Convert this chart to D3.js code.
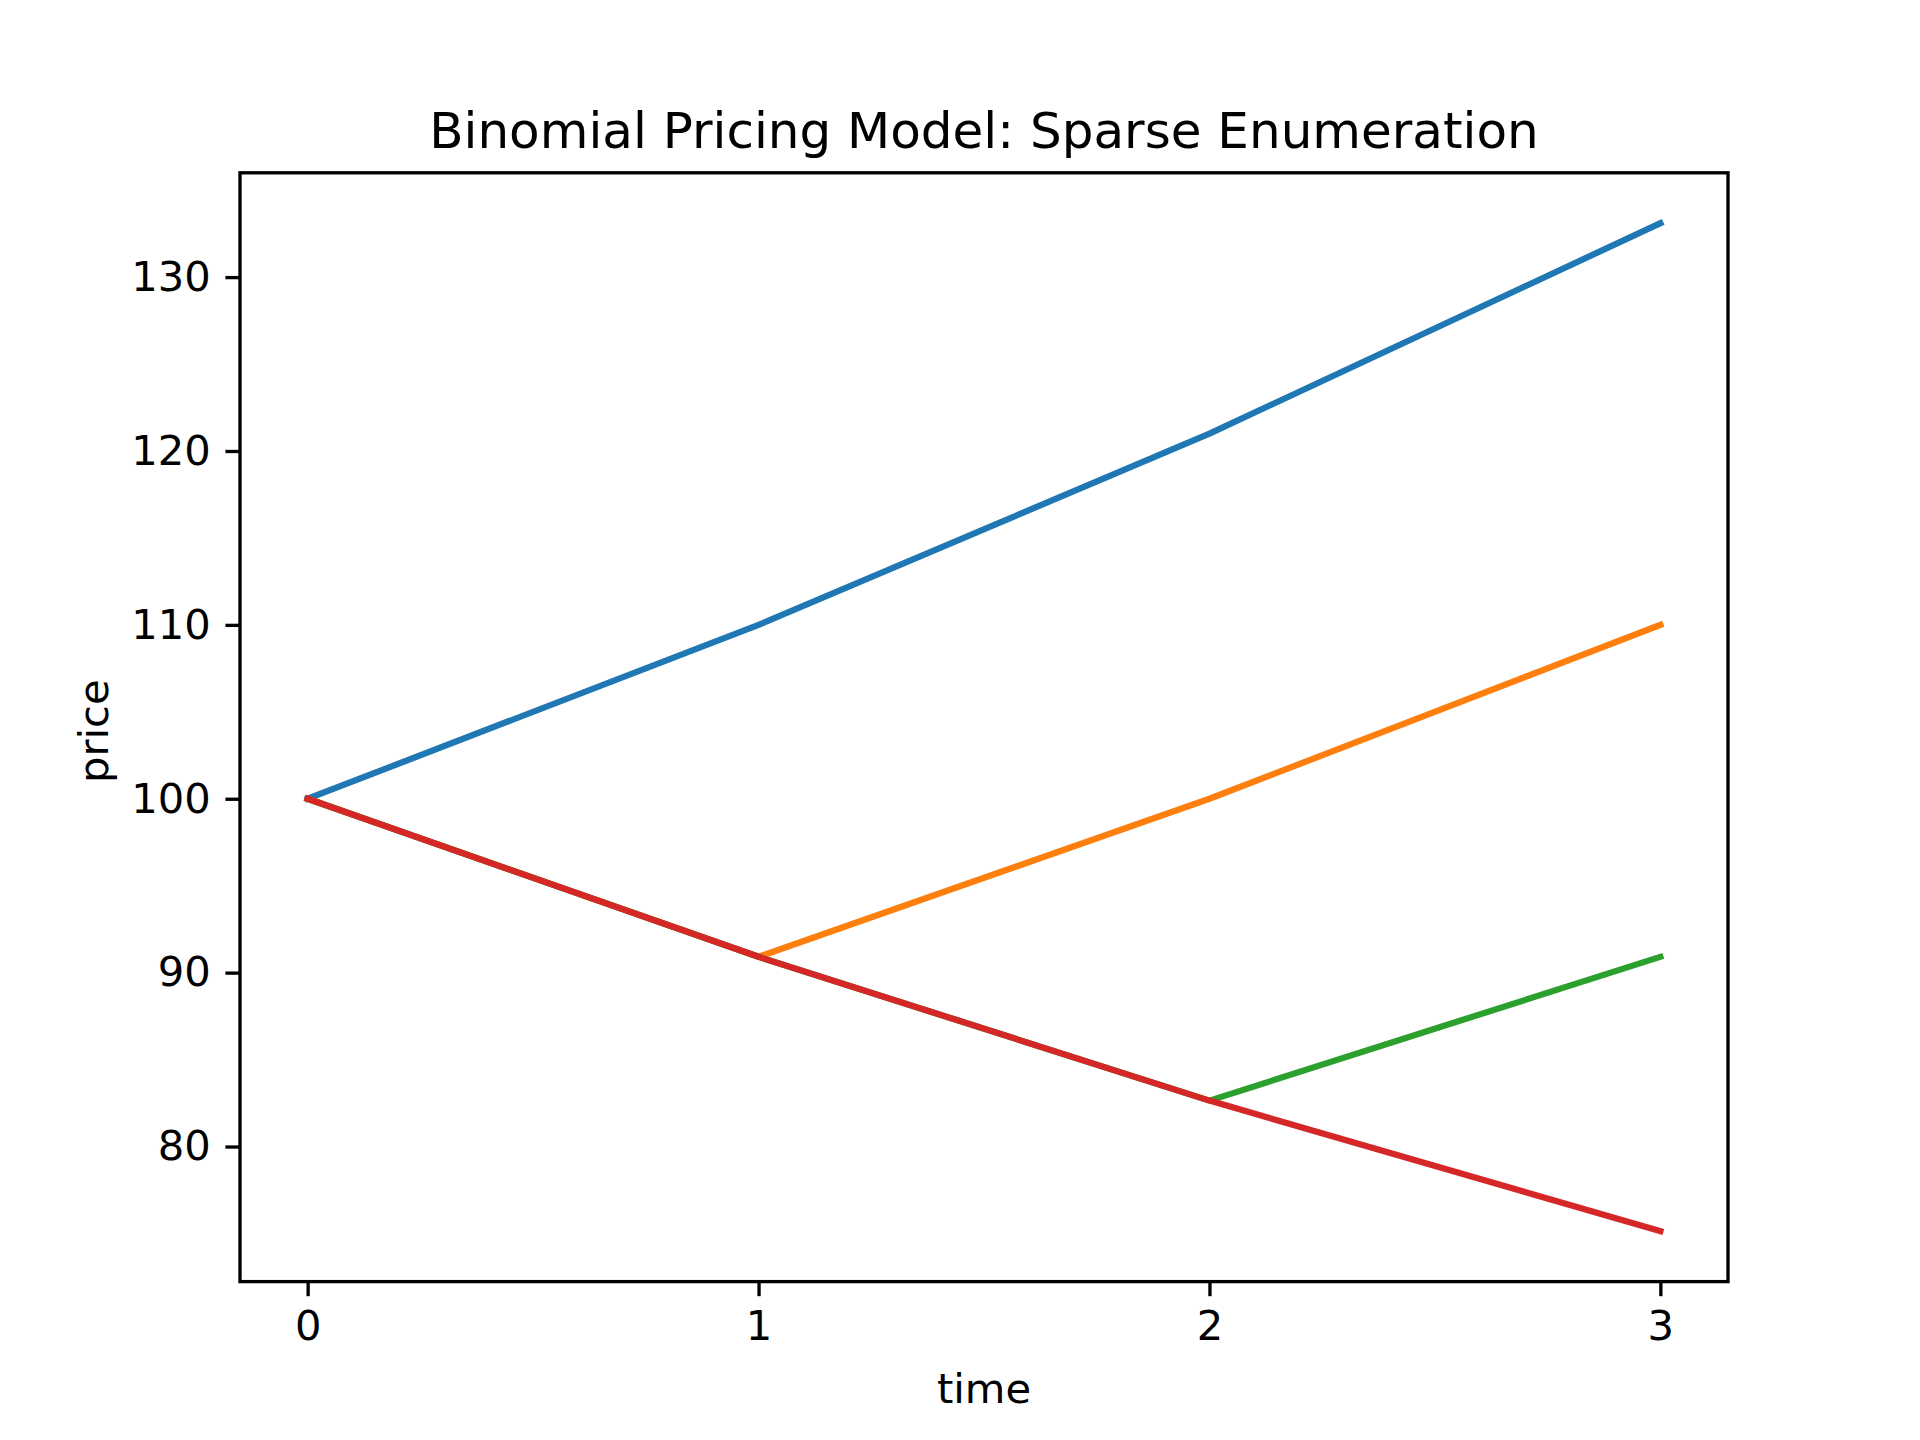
<!DOCTYPE html>
<html>
<head>
<meta charset="utf-8">
<script src="https://cdn.jsdelivr.net/npm/d3@7"></script>
<style>
  body { margin: 0; background: #fff; }
  text { font-family: "DejaVu Sans", sans-serif; fill: #000; }
</style>
</head>
<body>
<div id="chart"></div>
<script>
// data
var times = [0, 1, 2, 3];
var pathUUU = [100, 110, 121, 133.1];
var pathDUU = [100, 90.91, 100, 110];
var pathDDU = [100, 90.91, 82.64, 90.91];
var pathDDD = [100, 90.91, 82.64, 75.13];
var seriesColors = ["#1f77b4", "#ff7f0e", "#2ca02c", "#d62728"];
var xTicks = [0, 1, 2, 3];
var yTicks = [80, 90, 100, 110, 120, 130];

// chart area, matplotlib default layout
var svgWidth = 1920;
var svgHeight = 1440;
var margin = { top: 172.8, right: 192, bottom: 158.4, left: 240 };
var width = svgWidth - margin.left - margin.right;
var height = svgHeight - margin.top - margin.bottom;

var svg = d3.select("#chart")
  .append("svg")
  .attr("width", svgWidth)
  .attr("height", svgHeight);

var chartGroup = svg.append("g")
  .attr("transform", `translate(${margin.left}, ${margin.top})`);

var allPaths = [pathUUU, pathDUU, pathDDU, pathDDD];
var yMin = d3.min(allPaths, p => d3.min(p));
var yMax = d3.max(allPaths, p => d3.max(p));
var yPad = (yMax - yMin) * 0.05;
var xPad = (d3.max(times) - d3.min(times)) * 0.05;

var xLinearScale = d3.scaleLinear()
  .domain([d3.min(times) - xPad, d3.max(times) + xPad])
  .range([0, width]);

var yLinearScale = d3.scaleLinear()
  .domain([yMin - yPad, yMax + yPad])
  .range([height, 0]);

var fontSize = 41.67;
var tickLen = 14.58;

var bottomAxis = d3.axisBottom(xLinearScale)
  .tickValues(xTicks)
  .tickSize(tickLen)
  .tickPadding(14.58)
  .tickFormat(d3.format("d"));
var leftAxis = d3.axisLeft(yLinearScale)
  .tickValues(yTicks)
  .tickSize(tickLen)
  .tickPadding(14.58)
  .tickFormat(d3.format("d"));

// lines
var line = d3.line()
  .x((d, i) => xLinearScale(times[i]))
  .y(d => yLinearScale(d));

chartGroup.append("defs").append("clipPath")
  .attr("id", "clip")
  .append("rect")
  .attr("width", width)
  .attr("height", height);

chartGroup.append("g")
  .attr("clip-path", "url(#clip)")
  .selectAll("path")
  .data(allPaths)
  .enter()
  .append("path")
  .attr("d", d => line(d))
  .attr("fill", "none")
  .attr("stroke", (d, i) => seriesColors[i])
  .attr("stroke-width", 6.25)
  .attr("stroke-linecap", "square")
  .attr("stroke-linejoin", "round");

// axes
var xAxisG = chartGroup.append("g")
  .attr("transform", `translate(0, ${height})`)
  .call(bottomAxis);
var yAxisG = chartGroup.append("g")
  .call(leftAxis);

[xAxisG, yAxisG].forEach(function(g) {
  g.select(".domain").remove();
  g.selectAll(".tick line").attr("stroke", "#000").attr("stroke-width", 3.33);
  g.selectAll(".tick text")
    .style("font-family", "DejaVu Sans")
    .style("font-size", fontSize + "px")
    .attr("fill", "#000");
});

// frame
chartGroup.append("rect")
  .attr("width", width)
  .attr("height", height)
  .attr("fill", "none")
  .attr("stroke", "#000")
  .attr("stroke-width", 3.33)
  .attr("stroke-linecap", "square");

// title and axis labels
chartGroup.append("text")
  .attr("x", width / 2)
  .attr("y", -25)
  .attr("text-anchor", "middle")
  .style("font-size", "50px")
  .text("Binomial Pricing Model: Sparse Enumeration");

chartGroup.append("text")
  .attr("x", width / 2)
  .attr("y", height + 121)
  .attr("text-anchor", "middle")
  .style("font-size", fontSize + "px")
  .text("time");

chartGroup.append("text")
  .attr("transform", `translate(${108 - margin.left}, ${height / 2 + 4}) rotate(-90)`)
  .attr("text-anchor", "middle")
  .style("font-size", fontSize + "px")
  .text("price");
</script>
</body>
</html>
